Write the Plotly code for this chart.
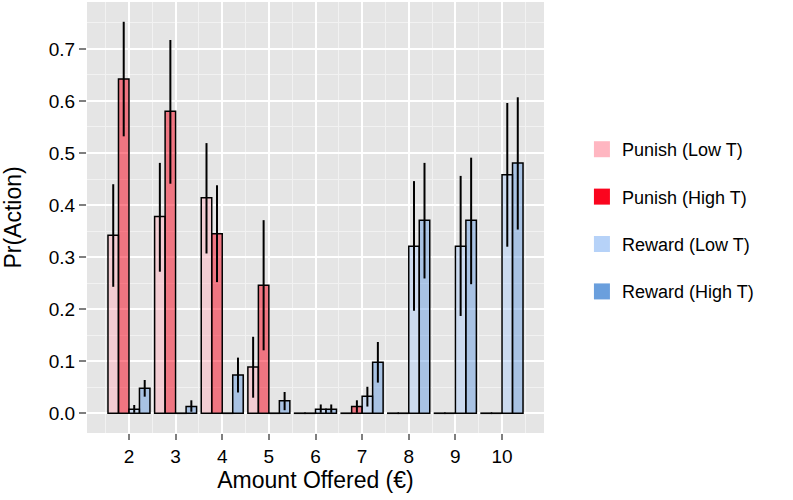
import numpy as np
import plotly.graph_objects as go

amounts = [2, 3, 4, 5, 6, 7, 8, 9, 10]

series_names = ["Punish (Low T)", "Punish (High T)", "Reward (Low T)", "Reward (High T)"]

punish_low = [0.342, 0.378, 0.414, 0.089, 0.0, 0.0, 0.0, 0.0, 0.0]
punish_low_hi = [0.440, 0.481, 0.519, 0.147, 0.0, 0.0, 0.0, 0.0, 0.0]
punish_low_lo = [0.243, 0.272, 0.307, 0.030, 0.0, 0.0, 0.0, 0.0, 0.0]

punish_high = [0.642, 0.580, 0.345, 0.246, 0.0, 0.013, 0.0, 0.0, 0.0]
punish_high_hi = [0.752, 0.717, 0.438, 0.371, 0.0, 0.025, 0.0, 0.0, 0.0]
punish_high_lo = [0.532, 0.441, 0.252, 0.121, 0.0, 0.001, 0.0, 0.0, 0.0]

reward_low = [0.008, 0.0, 0.0, 0.0, 0.008, 0.033, 0.321, 0.321, 0.458]
reward_low_hi = [0.016, 0.0, 0.0, 0.0, 0.017, 0.051, 0.446, 0.456, 0.596]
reward_low_lo = [0.001, 0.0, 0.0, 0.0, 0.001, 0.013, 0.197, 0.187, 0.320]

reward_high = [0.048, 0.013, 0.0735, 0.024, 0.008, 0.098, 0.371, 0.371, 0.481]
reward_high_hi = [0.064, 0.025, 0.107, 0.041, 0.017, 0.137, 0.481, 0.491, 0.607]
reward_high_lo = [0.032, 0.003, 0.040, 0.006, 0.001, 0.059, 0.259, 0.248, 0.353]

y_ticks = [0.0, 0.1, 0.2, 0.3, 0.4, 0.5, 0.6, 0.7]

bar_fill = ["rgba(255,179,191,0.5)", "rgba(250,5,30,0.5)",
            "rgba(178,208,250,0.5)", "rgba(107,159,225,0.5)"]
legend_fill = ["#FFB6C1", "#FA051E", "#B6D2F8", "#6A9FDD"]

data = [
    (punish_low, punish_low_hi, punish_low_lo),
    (punish_high, punish_high_hi, punish_high_lo),
    (reward_low, reward_low_hi, reward_low_lo),
    (reward_high, reward_high_hi, reward_high_lo),
]

FONT = "Liberation Sans, Arial, Helvetica, sans-serif"

fig = go.Figure()
for i, (vals, hi, lo) in enumerate(data):
    v = np.array(vals)
    shown = np.maximum(v, 0.0004)  # keep zero bars visible as a flat outline
    fig.add_trace(go.Bar(
        x=amounts, y=shown, name=series_names[i], showlegend=False,
        marker=dict(color=bar_fill[i], line=dict(color="black", width=1.5)),
        error_y=dict(type="data", symmetric=False,
                     array=np.array(hi) - v, arrayminus=v - np.array(lo),
                     color="black", thickness=2, width=0),
    ))

for i, name in enumerate(series_names):
    fig.add_trace(go.Scatter(
        x=[None], y=[None], mode="markers", name=name, legendgroup=name,
        marker=dict(symbol="square", size=16, color=legend_fill[i]),
    ))

fig.update_layout(
    width=793, height=500,
    margin=dict(l=87, r=249, t=2, b=67),
    paper_bgcolor="white", plot_bgcolor="#E5E5E5",
    barmode="group", bargap=0.1, bargroupgap=0,
    font=dict(family=FONT, size=19, color="black"),
    showlegend=True,
    legend=dict(x=1.083, xanchor="left", y=0.493, yanchor="middle",
                font=dict(size=18, color="black"), tracegroupgap=21,
                bgcolor="rgba(0,0,0,0)"),
    xaxis=dict(
        range=[1.1, 10.9], tickmode="linear", tick0=2, dtick=1,
        showgrid=True, gridcolor="white", gridwidth=1.5,
        zeroline=False, showline=False, automargin=False,
        ticks="outside", ticklen=6, tickwidth=1.5, tickcolor="#7F7F7F",
        tickfont=dict(size=19, color="black"),
        minor=dict(dtick=0.5, tick0=1.5, showgrid=True, gridcolor="#F2F2F2", gridwidth=0.8, ticks=""),
        title=dict(text="Amount Offered (€)", font=dict(size=23, color="black"), standoff=0),
    ),
    yaxis=dict(
        range=[-0.0378, 0.79], tickmode="array", tickvals=y_ticks,
        ticktext=[f"{t:.1f}" for t in y_ticks],
        showgrid=True, gridcolor="white", gridwidth=1.5,
        zeroline=False, showline=False, automargin=False,
        ticks="outside", ticklen=7, tickwidth=1.5, tickcolor="#7F7F7F",
        tickfont=dict(size=19, color="black"),
        minor=dict(dtick=0.05, tick0=0.05, showgrid=True, gridcolor="#F2F2F2", gridwidth=0.8, ticks=""),
        title=dict(text="Pr(Action)", font=dict(size=23, color="black"), standoff=23),
    ),
)

fig.write_html("out.html", config={"displayModeBar": False},
               post_script="document.body.style.margin='0';")
